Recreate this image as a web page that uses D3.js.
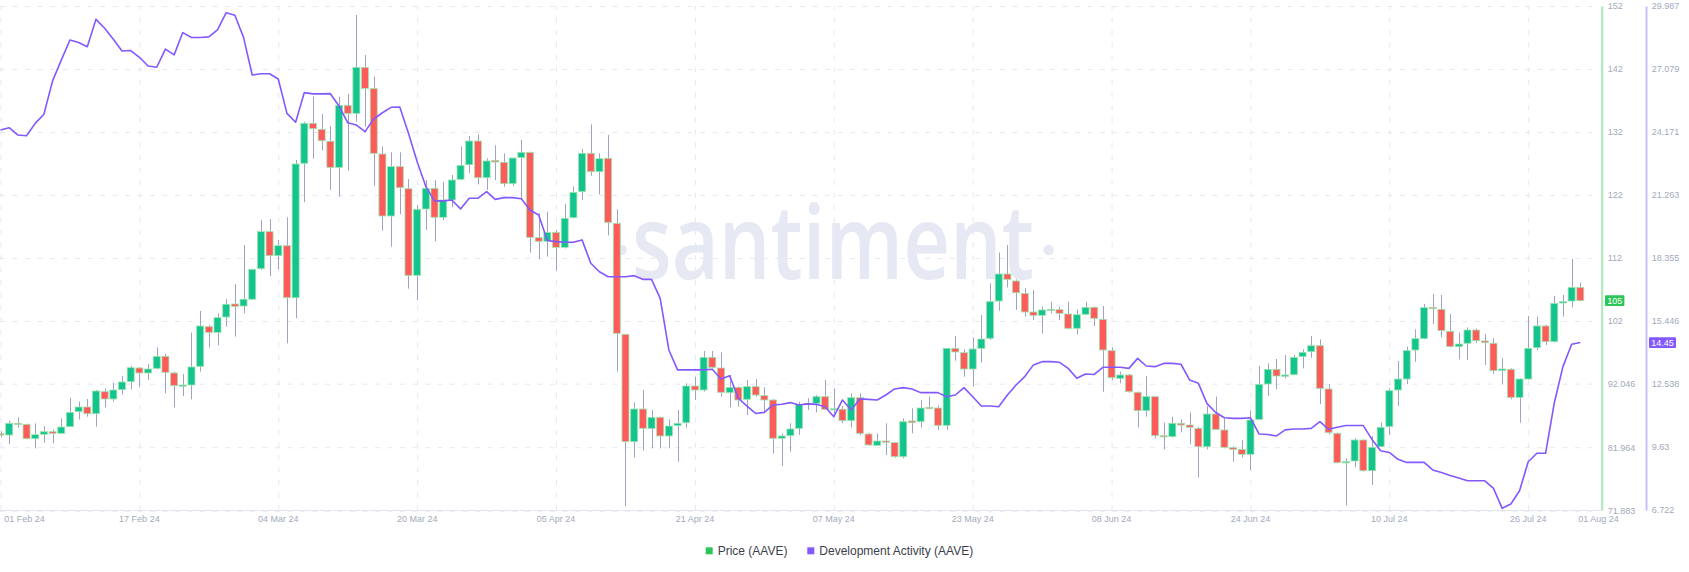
<!DOCTYPE html>
<html><head><meta charset="utf-8">
<script src="https://cdn.jsdelivr.net/npm/d3@7"></script>
<style>
html,body{margin:0;padding:0;background:#fff;}
svg{display:block;font-family:"Liberation Sans",Arial,sans-serif;}
</style></head><body>
<svg id="chart" width="1689" height="572"></svg>
<script>
// ---------- DATA ----------
const startDate = "2024-02-01";
const endDate = "2024-08-01";
const open = [
84.10,83.90,85.76,85.60,83.32,84.01,84.43,84.17,85.23,87.61,
88.35,87.29,90.78,89.62,91.10,92.37,94.54,93.75,94.49,96.39,
93.75,91.74,91.84,94.80,101.10,100.20,102.63,104.70,104.38,105.46,
110.31,116.18,112.37,113.96,105.70,127.03,133.38,132.42,130.52,126.39,
136.23,134.96,142.26,138.88,128.51,118.67,126.50,123.00,109.25,119.78,
123.06,118.46,121.21,124.49,126.81,130.57,124.75,127.50,127.19,123.80,
127.93,128.77,115.23,114.65,116.07,113.69,118.40,122.53,128.61,125.70,
127.82,117.50,99.88,82.85,88.03,84.96,86.71,83.75,85.39,85.86,
91.68,91.05,96.23,94.54,90.62,91.47,89.57,91.58,90.15,89.46,
83.38,83.80,84.96,88.72,88.93,89.99,87.98,88.00,86.18,89.83,
84.06,82.26,82.95,82.69,80.47,86.13,86.02,88.30,88.19,85.44,
97.66,96.97,94.38,97.66,99.25,105.17,109.46,108.35,106.38,103.43,
102.90,103.69,103.80,103.11,100.84,103.06,104.17,102.26,97.29,92.90,
93.43,90.68,87.77,89.99,83.80,83.65,85.76,85.49,84.96,82.05,
87.24,84.70,81.89,81.63,80.84,86.39,92.00,94.33,93.22,93.48,
96.34,97.13,98.08,91.21,84.17,79.51,79.78,83.11,78.24,82.05,
85.23,91.05,92.79,97.40,99.20,104.17,103.85,100.36,97.93,98.46,
100.57,98.83,98.46,94.12,94.33,89.88,92.79,97.77,101.21,98.72,
104.86,105.17,107.34];
const high = [
84.50,86.18,86.71,85.70,85.76,85.33,84.80,86.55,89.83,89.20,
89.62,91.05,91.31,92.21,93.27,94.86,94.70,95.17,97.82,96.76,
93.96,93.59,100.15,103.59,101.37,103.22,105.46,107.87,114.06,110.30,
118.03,118.19,114.86,118.46,127.56,133.64,137.61,134.86,132.95,137.61,
138.03,150.57,144.22,140.78,129.67,128.77,128.77,124.54,120.41,124.38,
124.38,124.12,125.17,129.67,131.36,131.63,127.82,129.88,128.61,127.90,
130.73,128.88,119.10,119.35,116.44,120.57,123.32,129.30,133.22,128.61,
131.52,119.72,99.90,89.04,91.05,87.87,86.80,86.39,87.87,92.11,
93.16,97.24,97.24,97.03,93.43,91.60,92.63,92.79,91.47,89.60,
84.10,85.76,89.20,89.72,90.25,92.63,91.31,88.51,90.52,90.52,
84.20,84.17,85.76,82.80,86.55,88.14,89.46,89.99,88.60,97.70,
99.62,97.50,99.41,102.95,107.98,112.86,114.06,108.60,107.19,106.92,
104.28,105.07,104.28,105.07,103.85,105.07,104.30,104.38,97.80,93.96,
93.60,90.80,93.27,90.00,85.86,86.81,86.39,87.50,85.20,88.51,
89.99,86.55,82.10,83.11,87.77,94.86,95.28,95.97,96.60,96.60,
97.50,99.62,99.09,92.00,84.30,80.20,83.38,83.20,83.75,85.86,
91.31,95.65,97.93,100.68,104.70,106.29,106.13,103.11,100.20,100.99,
100.80,99.88,99.25,96.07,94.50,92.90,102.79,102.69,101.40,105.97,
106.13,111.86,108.08];
const low = [
83.50,82.48,85.07,83.22,81.79,82.69,82.58,84.10,85.20,86.39,
86.81,85.23,88.30,89.20,90.31,91.15,91.47,92.63,94.30,90.52,
88.30,90.10,89.57,93.96,97.77,98.14,101.10,99.51,103.22,105.40,
110.10,109.14,110.20,98.46,102.42,120.84,127.77,129.04,122.83,121.74,
125.86,133.64,132.85,123.48,116.34,113.80,118.93,107.13,105.33,116.44,
114.65,118.03,120.04,124.40,125.49,123.69,122.79,124.38,123.32,123.43,
121.21,112.85,111.79,112.22,109.99,113.53,118.30,121.21,125.07,122.10,
115.60,93.96,72.60,80.36,81.42,81.79,81.79,81.79,79.67,85.07,
89.46,90.78,94.50,89.99,88.30,88.40,87.08,90.00,87.61,81.00,
78.98,81.26,83.90,87.87,87.50,87.90,86.81,85.76,85.12,83.90,
82.20,82.20,80.73,80.30,80.20,84.17,85.12,88.00,84.70,84.70,
95.70,93.16,91.58,95.39,99.00,103.64,107.34,103.75,102.69,102.16,
100.04,103.22,102.16,100.68,99.88,103.00,101.21,90.78,92.63,92.11,
90.60,85.12,86.81,83.38,81.63,83.50,84.33,82.42,77.19,81.63,
84.70,81.80,79.67,80.36,78.35,86.30,90.10,91.15,92.90,93.40,
94.49,96.18,88.83,84.00,79.40,72.75,78.77,78.10,75.97,82.00,
83.90,88.51,92.00,95.54,99.10,101.52,99.41,97.80,95.92,95.81,
98.50,95.02,93.59,92.00,89.57,85.86,92.70,97.40,98.20,98.60,
102.69,104.17,105.10];
const close = [
83.90,85.76,85.60,83.32,83.96,84.43,84.17,85.17,87.50,88.35,
87.29,90.89,89.62,91.05,92.32,94.59,93.75,94.38,96.39,93.85,
91.74,91.84,94.70,101.21,100.20,102.53,104.65,104.33,105.46,110.20,
116.18,112.37,113.96,105.70,126.92,133.38,132.53,130.62,126.39,136.23,
134.96,142.26,138.93,128.61,118.67,126.50,123.16,109.25,119.72,123.06,
118.46,121.21,124.38,126.71,130.57,124.75,127.40,127.24,123.80,127.87,
128.77,115.28,114.65,116.07,113.69,118.30,122.42,128.61,125.70,127.77,
117.66,100.04,82.85,88.03,84.96,86.71,83.75,85.33,85.76,91.68,
91.05,96.23,94.65,90.68,91.47,89.46,91.58,90.25,89.46,83.38,
83.75,84.86,88.72,88.93,89.99,87.98,88.08,86.18,89.83,84.17,
82.32,82.95,82.74,80.47,86.02,85.86,88.19,88.08,85.44,97.66,
97.08,94.38,97.56,99.14,105.07,109.46,108.61,106.49,103.43,102.90,
103.75,103.85,103.22,100.84,103.00,104.17,102.42,97.40,93.01,93.43,
90.78,87.77,89.99,83.80,83.65,85.76,85.49,85.12,82.05,87.24,
84.80,81.95,81.63,80.84,86.29,91.95,94.33,93.27,93.43,96.23,
97.03,98.08,91.31,84.28,79.51,79.67,83.11,78.24,81.95,85.12,
90.94,92.79,97.29,99.20,104.12,103.96,100.47,97.93,98.35,100.57,
98.88,98.56,94.12,94.38,89.88,92.79,97.66,101.21,98.72,104.80,
105.07,107.34,105.23];
const devActivity = [
24.26,24.37,24.03,24.00,24.57,24.99,26.53,27.49,28.42,28.30,
28.11,29.37,28.96,28.45,27.91,27.93,27.62,27.22,27.16,28.00,
27.73,28.76,28.53,28.53,28.56,28.88,29.68,29.56,28.54,26.80,
26.86,26.86,26.62,25.03,24.62,25.99,25.93,25.93,25.94,25.37,
24.60,24.49,24.19,24.77,25.06,25.31,25.32,24.11,22.80,21.65,
20.99,20.99,21.03,20.62,21.11,21.11,21.42,21.06,21.14,21.14,
21.09,20.57,20.34,19.16,19.11,19.08,19.08,19.19,18.11,17.72,
17.49,17.49,17.49,17.54,17.37,17.37,16.49,14.11,13.19,13.19,
13.19,13.19,13.22,12.77,12.92,11.88,11.52,11.18,11.23,11.57,
11.60,11.68,11.57,11.62,11.60,11.49,11.03,11.80,11.34,11.85,
11.83,11.80,12.03,12.31,12.37,12.31,12.14,12.14,12.14,11.95,
12.03,12.37,11.95,11.52,11.52,11.49,12.03,12.49,12.88,13.42,
13.57,13.57,13.54,13.26,12.80,13.00,12.98,13.31,13.31,13.31,
13.26,13.72,13.37,13.34,13.49,13.49,13.45,12.72,12.57,11.63,
11.22,10.98,10.95,10.95,10.98,10.23,10.21,10.14,10.42,10.46,
10.46,10.49,10.80,10.45,10.54,10.62,10.62,10.62,9.98,9.46,
9.38,9.06,8.92,8.92,8.92,8.57,8.45,8.31,8.20,8.07,
8.07,8.07,7.72,6.80,7.00,7.61,8.95,9.34,9.34,11.66,
13.34,14.37,14.45];

const priceTicks = [71.883, 81.964, 92.046, 102, 112, 122, 132, 142, 152];
const priceTickLabels = ["71.883","81.964","92.046","102","112","122","132","142","152"];
const devTicks = [6.722, 9.63, 12.538, 15.446, 18.355, 21.263, 24.171, 27.079, 29.987];
const devTickLabels = ["6.722","9.63","12.538","15.446","18.355","21.263","24.171","27.079","29.987"];
const xTickDates = ["2024-02-01","2024-02-17","2024-03-04","2024-03-20","2024-04-05","2024-04-21",
  "2024-05-07","2024-05-23","2024-06-08","2024-06-24","2024-07-10","2024-07-26"];
const lastTickDate = "2024-08-01";
const legendLabels = ["Price (AAVE)", "Development Activity (AAVE)"];
const watermarkText = "santiment";

// ---------- SETUP ----------
const parse = d3.utcParse("%Y-%m-%d");
const fmt = d3.utcFormat("%d %b %y");
const t0 = parse(startDate);
const dates = open.map((_, i) => d3.utcDay.offset(t0, i));
const candles = dates.map((d, i) => ({date: d, o: open[i], h: high[i], l: low[i], c: close[i]}));

const svg = d3.select("#chart");
const plotRight = 1601.7, plotTop = 6, plotBottom = 510;

const x = d3.scaleUtc().domain([t0, parse(endDate)]).range([0.5, 1580.3]);
const yP = d3.scaleLinear().domain([72, 152]).range([plotBottom, plotTop]);
const yD = d3.scaleLinear().domain([6.722, 29.987]).range([plotBottom, plotTop]);

const GREEN = "#14c48f", RED = "#ff5b5b", PURPLE = "#8358ff";

// watermark
const wm = svg.append("g").attr("fill", "#e6e9f3");
wm.append("text").attr("x", 632).attr("y", 279)
  .attr("font-family", "'Open Sans', 'Noto Sans', sans-serif").attr("font-size", 103)
  .attr("font-weight", 600)
  .attr("textLength", 402).attr("lengthAdjust", "spacingAndGlyphs")
  .text(watermarkText);
wm.append("circle").attr("cx", 621.7).attr("cy", 250).attr("r", 5.2);
wm.append("circle").attr("cx", 1048.5).attr("cy", 250).attr("r", 5.2);

// horizontal grid
const hg = svg.append("g").call(d3.axisLeft(yP).tickValues(priceTicks).tickSize(-1597).tickFormat(""));
hg.select(".domain").remove();
hg.selectAll("line").attr("stroke", "#e6e8f2").attr("stroke-dasharray", "5,7.5");

// vertical grid
const vg = svg.append("g").attr("transform", `translate(0,${plotBottom})`)
  .call(d3.axisBottom(x).tickValues(xTickDates.map(parse)).tickSize(-(plotBottom - plotTop)).tickFormat(""));
vg.select(".domain").remove();
vg.selectAll("line").attr("stroke", "#e6e8f2").attr("stroke-dasharray", "5,7.5");

// bottom axis line
svg.append("line").attr("x1", 0).attr("x2", plotRight).attr("y1", plotBottom + 0.5).attr("y2", plotBottom + 0.5)
  .attr("stroke", "#e2e4ef").attr("stroke-width", 1);

// x labels
const xl = svg.append("g").attr("font-size", 9).attr("fill", "#a3aabc");
xTickDates.forEach((s, i) => {
  const d = parse(s);
  xl.append("text")
    .attr("x", i === 0 ? 4.3 : x(d))
    .attr("y", 522)
    .attr("text-anchor", i === 0 ? "start" : "middle")
    .text(fmt(d));
});
xl.append("text").attr("x", x(parse(lastTickDate)) - 2).attr("y", 522)
  .attr("text-anchor", "start").text(fmt(parse(lastTickDate)));

// candles
const bw = 7;
const cg = svg.append("g");
cg.selectAll("line.wick").data(candles).join("line")
  .attr("class", "wick")
  .attr("x1", d => Math.round(x(d.date)) + 0.5).attr("x2", d => Math.round(x(d.date)) + 0.5)
  .attr("y1", d => yP(d.h)).attr("y2", d => yP(d.l))
  .attr("stroke", "#9ea3c6").attr("stroke-width", 1);
cg.selectAll("rect.body").data(candles).join("rect")
  .attr("class", "body")
  .attr("x", d => x(d.date) - bw / 2)
  .attr("width", bw)
  .attr("y", d => yP(Math.max(d.o, d.c)))
  .attr("height", d => Math.max(1.2, Math.abs(yP(d.o) - yP(d.c))))
  .attr("fill", d => d.c >= d.o ? GREEN : RED)
  .attr("stroke", "#9fe3ac").attr("stroke-width", 0.8);

// dev activity line
svg.append("path")
  .datum(devActivity)
  .attr("fill", "none").attr("stroke", PURPLE).attr("stroke-width", 1.6)
  .attr("stroke-linejoin", "round")
  .attr("d", d3.line().x((v, i) => x(dates[i])).y(v => yD(v)));

// right axes
const pa = svg.append("g").attr("transform", `translate(${plotRight},0)`)
  .call(d3.axisRight(yP).tickValues(priceTicks).tickSize(0).tickSizeOuter(0).tickPadding(6)
    .tickFormat((v, i) => priceTickLabels[i]));
pa.select(".domain").attr("stroke", "#a9e8b8").attr("stroke-width", 2);
pa.selectAll("text").attr("fill", "#a3aabc").attr("font-size", 9).attr("font-family", "'Liberation Sans', Arial, sans-serif");

const da = svg.append("g").attr("transform", "translate(1646,0)")
  .call(d3.axisRight(yD).tickValues(devTicks).tickSize(0).tickSizeOuter(0).tickPadding(5.7)
    .tickFormat((v, i) => devTickLabels[i]));
da.select(".domain").attr("stroke", "#cbbffe").attr("stroke-width", 2);
da.selectAll("text").attr("fill", "#a3aabc").attr("font-size", 9).attr("font-family", "'Liberation Sans', Arial, sans-serif");

// value tags
const lastClose = close[close.length - 1];
const lastDev = devActivity[devActivity.length - 1];
const pt = svg.append("g").attr("transform", `translate(1605,${yP(lastClose)})`);
pt.append("rect").attr("x", 0).attr("y", -5.4).attr("width", 19.4).attr("height", 10.8).attr("fill", "#2cc55a").attr("rx", 1);
pt.append("text").attr("x", 9.7).attr("y", 3.3).attr("text-anchor", "middle").attr("fill", "#fff").attr("font-size", 9)
  .text(d3.format(".0f")(lastClose));
const dt = svg.append("g").attr("transform", `translate(1649,${yD(lastDev)})`);
dt.append("rect").attr("x", 0).attr("y", -5.3).attr("width", 27).attr("height", 10.6).attr("fill", PURPLE).attr("rx", 1);
dt.append("text").attr("x", 13.5).attr("y", 3.3).attr("text-anchor", "middle").attr("fill", "#fff").attr("font-size", 9)
  .text(d3.format(".2f")(lastDev));

// legend
const lg = svg.append("g").attr("font-size", 12).attr("fill", "#3b3e4b");
lg.append("rect").attr("x", 705.7).attr("y", 547.3).attr("width", 7).attr("height", 7).attr("fill", "#2bc65a");
lg.append("text").attr("x", 717.7).attr("y", 555.3).text(legendLabels[0]);
lg.append("rect").attr("x", 807.3).attr("y", 547.3).attr("width", 7).attr("height", 7).attr("fill", PURPLE);
lg.append("text").attr("x", 819.3).attr("y", 555.3).text(legendLabels[1]);
</script>
</body></html>
